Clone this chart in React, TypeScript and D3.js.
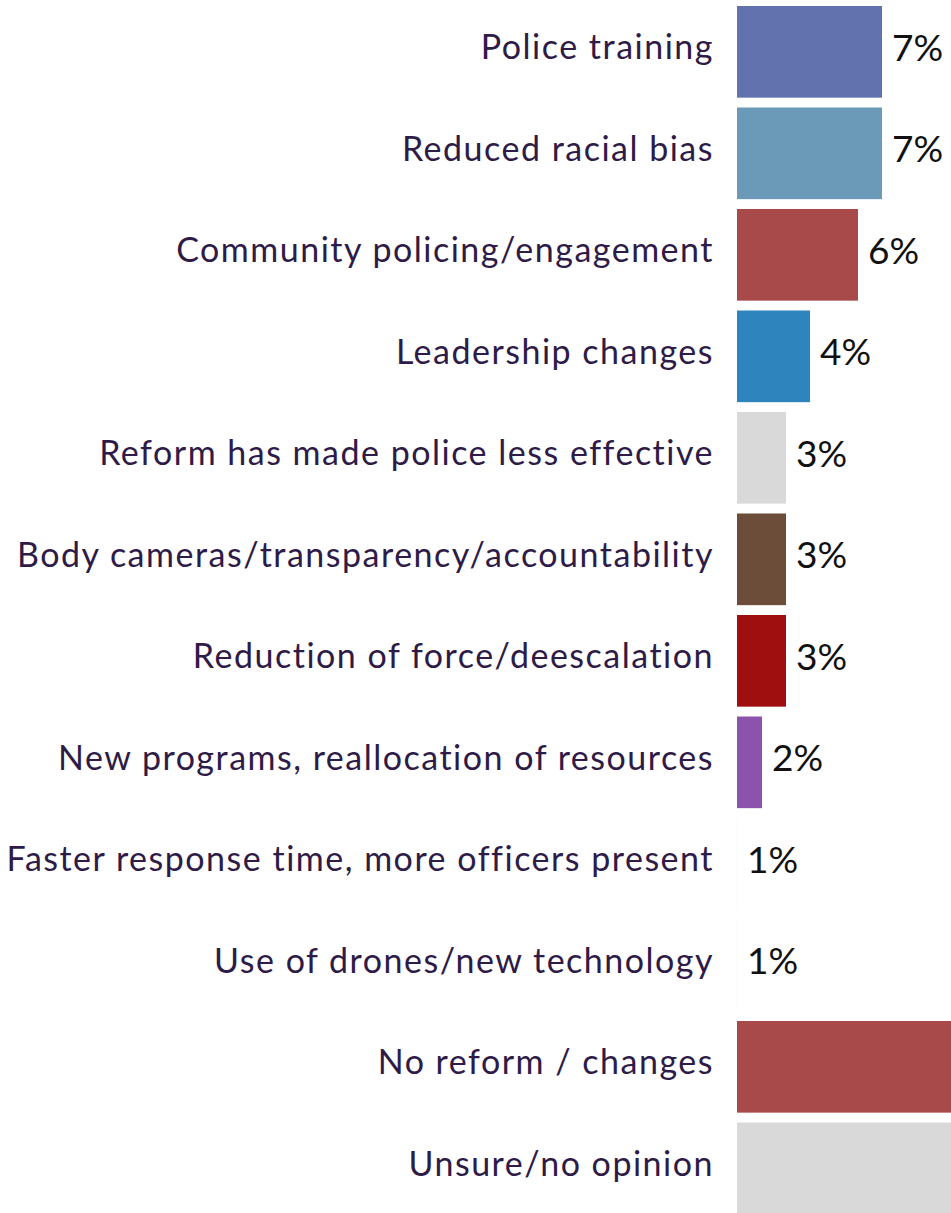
import React, { useRef, useEffect } from "react";
import * as d3 from "d3";

const categories = [
  "Police training",
  "Reduced racial bias",
  "Community policing/engagement",
  "Leadership changes",
  "Reform has made police less effective",
  "Body cameras/transparency/accountability",
  "Reduction of force/deescalation",
  "New programs, reallocation of resources",
  "Faster response time, more officers present",
  "Use of drones/new technology",
  "No reform / changes",
  "Unsure/no opinion",
];

const values = [7, 7, 6, 4, 3, 3, 3, 2, 0.96, 0.96, 45, 15];

const colors = [
  "#6272ae",
  "#6a9ab7",
  "#a84a4a",
  "#2e85bd",
  "#d9d9d9",
  "#6b4d3a",
  "#a00f0f",
  "#8d52ab",
  "#8d52ab",
  "#8d52ab",
  "#a84a4a",
  "#d9d9d9",
];

const App: React.FC = () => {
  const svgRef = useRef<SVGSVGElement | null>(null);
  const width = 951;
  const height = 1213;

  useEffect(() => {
    const svg = d3.select(svgRef.current);
    svg.selectAll("*").remove();

    const plotLeft = 737;
    const labelRight = 714;
    const step = 101.5;
    const pad = 0.097;

    // scale zero sits behind the labels, visible bars start at plotLeft
    const x = d3.scaleLinear().domain([0, 10]).range([714, 954]);

    const y = d3
      .scaleBand<string>()
      .domain(categories)
      .range([6, 6 + step * (categories.length - pad)])
      .paddingInner(pad)
      .paddingOuter(0);

    const data = categories.map((c, i) => ({
      name: c,
      value: values[i],
      color: colors[i],
    }));

    svg
      .append("defs")
      .append("clipPath")
      .attr("id", "plot-clip")
      .append("rect")
      .attr("x", plotLeft)
      .attr("y", 0)
      .attr("width", width - plotLeft)
      .attr("height", height);

    svg
      .append("g")
      .attr("clip-path", "url(#plot-clip)")
      .selectAll("rect")
      .data(data)
      .enter()
      .append("rect")
      .attr("x", x(0))
      .attr("y", (d) => y(d.name)!)
      .attr("width", (d) => x(d.value) - x(0))
      .attr("height", y.bandwidth())
      .attr("fill", (d) => d.color);

    // category labels
    svg
      .append("g")
      .selectAll("text")
      .data(data)
      .enter()
      .append("text")
      .attr("x", labelRight)
      .attr("y", (d) => y(d.name)! + y.bandwidth() / 2 + 7.5)
      .attr("text-anchor", "end")
      .style("font-family", "Lato, 'Noto Sans', sans-serif")
      .style("font-size", "34px")
      .style("letter-spacing", "1.5px")
      .style("fill", "#2e1b47")
      .text((d) => d.name);

    // value labels (only those that land inside the picture)
    svg
      .append("g")
      .selectAll("text")
      .data(data.filter((d) => Math.max(x(d.value), plotLeft) + 60 < width))
      .enter()
      .append("text")
      .attr("x", (d) => Math.max(x(d.value), plotLeft) + 10)
      .attr("y", (d) => y(d.name)! + y.bandwidth() / 2 + 9)
      .style("font-family", "Lato, 'Noto Sans', sans-serif")
      .style("font-size", "37px")
      .style("fill", "#111111")
      .text((d) => `${Math.round(d.value)}%`);
  }, []);

  return (
    <div style={{ position: "absolute", left: 0, top: 0 }}>
      <svg ref={svgRef} width={width} height={height} style={{ display: "block" }}></svg>
    </div>
  );
};

export default App;
